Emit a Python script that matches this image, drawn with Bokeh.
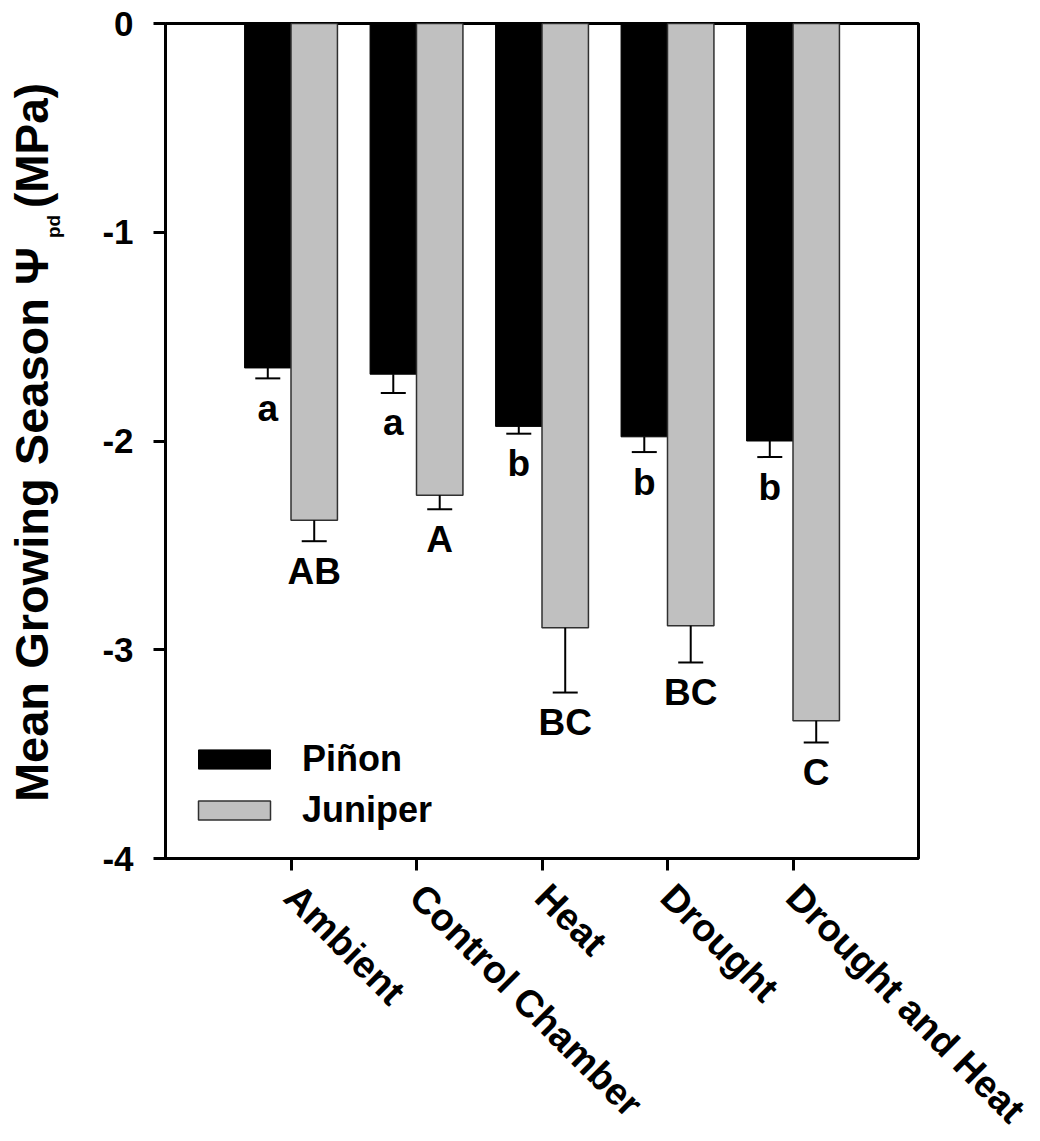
import math
import numpy as np
from bokeh.plotting import figure
from bokeh.layouts import row
from bokeh.models import (ColumnDataSource, FixedTicker, Whisker, TeeHead,
                          Legend, LegendItem, Range1d)
from bokeh.core.properties import value
from bokeh.embed import file_html
from bokeh.resources import INLINE

# ---------------- data ----------------
treatments = ["Ambient", "Control Chamber", "Heat", "Drought", "Drought and Heat"]
pinon_mean = [-1.65, -1.68, -1.93, -1.98, -2.00]
pinon_se = [0.05, 0.09, 0.035, 0.073, 0.077]
juniper_mean = [-2.38, -2.26, -2.895, -2.885, -3.34]
juniper_se = [0.10, 0.067, 0.31, 0.176, 0.104]
pinon_letters = ["a", "a", "b", "b", "b"]
juniper_letters = ["AB", "A", "BC", "BC", "C"]
y_ticks = [0, -1, -2, -3, -4]
y_tick_labels = ["0", "-1", "-2", "-3", "-4"]
series_names = ["Piñon", "Juniper"]
y_title_parts = ["Mean Growing Season Ψ", "pd", "(MPa)"]

FONT = "Liberation Sans"
pos = np.arange(1, len(treatments) + 1, dtype=float)
bar_w = 0.37
off = 0.185

PAGE_W, PAGE_H = 1040, 1141
TITLE_W = 90
FRAME_W, FRAME_H = 753, 835
LEFT, TOP, RIGHT, BOTTOM = 75, 23, 122, 283

# ---------------- main plot ----------------
p = figure(frame_width=FRAME_W, frame_height=FRAME_H,
           x_range=Range1d(0, 6), y_range=Range1d(-4, 0),
           output_backend="svg", toolbar_location=None,
           min_border_left=LEFT, min_border_right=RIGHT,
           min_border_top=TOP, min_border_bottom=BOTTOM)
p.background_fill_color = "white"
p.border_fill_color = "white"


def make_src(xs, means, ses, letters):
    m = np.array(means)
    s = np.array(ses)
    return ColumnDataSource(dict(x=xs, top=np.zeros_like(m), bottom=m,
                                 lower=m - s, letter=letters))


src_p = make_src(pos - off, pinon_mean, pinon_se, pinon_letters)
src_j = make_src(pos + off, juniper_mean, juniper_se, juniper_letters)

rp = p.vbar(x="x", width=bar_w, top="top", bottom="bottom", source=src_p,
            fill_color="black", line_color="black", line_width=1)
rj = p.vbar(x="x", width=bar_w, top="top", bottom="bottom", source=src_j,
            fill_color="#c0c0c0", line_color="#303030", line_width=1.5)

for src in (src_p, src_j):
    w = Whisker(base="x", upper="bottom", lower="lower", source=src,
                line_color="black", line_width=2, upper_head=None,
                lower_head=TeeHead(size=25, line_color="black", line_width=2),
                level="annotation")
    p.add_layout(w)
    p.text(x="x", y="lower", text="letter", source=src, text_align="center",
           text_baseline="alphabetic", y_offset=30, text_font=value(FONT),
           text_font_style="bold", text_font_size="37px", text_color="black")

legend = Legend(items=[LegendItem(label=series_names[0], renderers=[rp]),
                       LegendItem(label=series_names[1], renderers=[rj])],
                location=(24, 27), glyph_width=90, glyph_height=24,
                label_text_font=FONT, label_text_font_style="bold",
                label_text_font_size="36px", label_text_color="black",
                label_standoff=23, spacing=9,
                padding=0, margin=0, border_line_alpha=0,
                background_fill_alpha=0)
p.add_layout(legend)

p.xgrid.visible = False
p.ygrid.visible = False
p.outline_line_color = "black"
p.outline_line_width = 3
p.outline_line_alpha = 1

for ax in (p.xaxis, p.yaxis):
    ax.axis_line_width = 3
    ax.axis_line_color = "black"
    ax.major_tick_line_width = 3
    ax.major_tick_line_color = "black"
    ax.major_tick_out = 12
    ax.major_tick_in = 0
    ax.minor_tick_line_color = None
    ax.major_label_text_font = FONT
    ax.major_label_text_font_style = "bold"
    ax.major_label_text_color = "black"

p.xaxis.ticker = FixedTicker(ticks=list(pos))
p.xaxis.major_label_overrides = {int(i): t for i, t in zip(pos, treatments)}
p.xaxis.major_label_orientation = -math.pi / 4
p.xaxis.major_label_text_font_size = "38px"
p.xaxis.major_label_standoff = 20

p.yaxis.ticker = FixedTicker(ticks=y_ticks)
p.yaxis.major_label_overrides = {t: s for t, s in zip(y_ticks, y_tick_labels)}
p.yaxis.major_label_text_font_size = "35px"
p.yaxis.major_label_standoff = 20

# ---------------- y-axis title strip ----------------
# Same vertical frame as the main plot; ranges chosen so that data units are
# page pixels (x from page left, y measured upward from page bottom).
t = figure(frame_width=TITLE_W, frame_height=FRAME_H,
           x_range=Range1d(0, TITLE_W),
           y_range=Range1d(PAGE_H - TOP - FRAME_H, PAGE_H - TOP),
           output_backend="svg", toolbar_location=None,
           x_axis_location=None, y_axis_location=None,
           min_border_left=0, min_border_right=0,
           min_border_top=TOP, min_border_bottom=BOTTOM)
t.outline_line_color = None
t.xgrid.visible = False
t.ygrid.visible = False
t.background_fill_color = "white"
t.border_fill_color = "white"

common = dict(angle=math.pi / 2, text_font=value(FONT), text_font_style="bold",
              text_color="black", text_baseline="middle", text_align="center")
# centres as (x from page left, y from page top) in pixels
t.text(x=[31], y=[PAGE_H - 524], text=[y_title_parts[0]],
       text_font_size="47px", **common)
t.text(x=[53], y=[PAGE_H - 226], text=[y_title_parts[1]],
       text_font_size="19px", **common)
t.text(x=[31], y=[PAGE_H - 145], text=[y_title_parts[2]],
       text_font_size="46px", **common)

layout = row(t, p, spacing=0)
open("out.html", "w").write(file_html(layout, INLINE))
